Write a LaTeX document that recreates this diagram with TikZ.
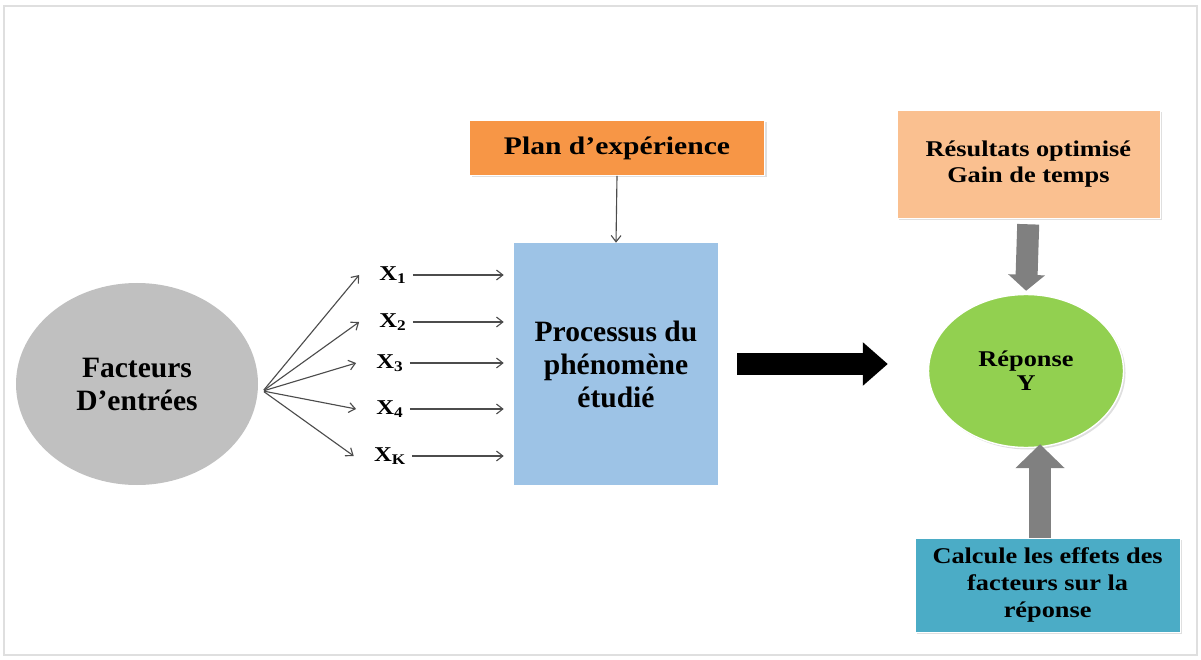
\documentclass[tikz,border=0pt]{standalone}
\usepackage{fontspec}
\setmainfont{Liberation Serif}
\newfontfamily\widefont[FakeStretch=1.17,Ligatures=TeX]{Liberation Serif}
\usepackage{tikz}
\usetikzlibrary{arrows.meta,shadows,shapes.geometric}

\definecolor{facgrey}{HTML}{C0C0C0}
\definecolor{procblue}{HTML}{9DC3E6}
\definecolor{planorange}{HTML}{F79646}
\definecolor{resorange}{HTML}{FAC090}
\definecolor{repgreen}{HTML}{92D050}
\definecolor{calcblue}{HTML}{4BACC6}
\definecolor{fatgrey}{HTML}{808080}

\begin{document}
\begin{tikzpicture}

  \useasboundingbox (0,0) rectangle (30.025,16.475);
  \draw[gray!25,line width=1.2pt] (0.1,0.1) rectangle (29.925,16.325);

  % node styles
  \tikzstyle{Big}=[
  font=\fontsize{21}{23.5}\selectfont\bfseries,
  align=center,
  inner sep=0mm]

  \tikzstyle{Small}=[
  font=\widefont\bfseries\fontsize{16}{19}\selectfont,
  align=center,
  inner sep=0mm]

  \tikzstyle{Box}=[
  Small,
  shape=rectangle,
  draw=white,
  drop shadow={shadow xshift=0.05cm,shadow yshift=-0.05cm,opacity=0.25}]

  \tikzstyle{Label}=[font=\widefont\bfseries\fontsize{15}{18}\selectfont,inner sep=0.5mm]

  % connector styles
  \tikzstyle{Thin}=[draw=black!70,line width=0.8pt,-{Straight Barb[length=4.5pt,width=7pt]}]
  \tikzstyle{Fat}=[line width=0.55cm]

  \node[Big,ellipse,fill=facgrey,minimum width=6.05cm,minimum height=5.05cm]
    (F) at (3.425,6.875) {Facteurs\\D’entrées};

  \node[anchor=center,inner sep=0mm] (O) at (6.575,6.70) {};

  \draw (O) node[Label] (x1) at +(3.25, 2.90) {X\textsubscript{1}};
  \draw (O) node[Label] (x2) at +(3.25, 1.725) {X\textsubscript{2}};
  \draw (O) node[Label] (x3) at +(3.175, 0.70) {X\textsubscript{3}};
  \draw (O) node[Label] (x4) at +(3.175,-0.45) {X\textsubscript{4}};
  \draw (O) node[Label] (xK) at +(3.175,-1.625) {X\textsubscript{K}};

  \node[Big,rectangle,fill=procblue,minimum width=5.1cm,minimum height=6.05cm]
    (P) at (15.40,7.375) {Processus du\\phénomène\\étudié};

  \node[Box,fill=planorange,minimum width=7.375cm,minimum height=1.375cm,
    font=\widefont\bfseries\fontsize{18}{21}\selectfont]
    (E) at (15.425,12.775) {Plan d’expérience};

  \node[Box,fill=resorange,minimum width=6.575cm,minimum height=2.7cm]
    (R) at (25.71,12.375) {Résultats optimisé\\Gain de temps};

  \node[Box,shape=ellipse,fill=repgreen,line width=1pt,minimum width=4.875cm,minimum height=3.825cm]
    (G) at (25.65,7.20) {Réponse\\[-2pt]Y};

  \node[Box,fill=calcblue,minimum width=6.625cm,minimum height=2.35cm]
    (C) at (26.19,1.85) {Calcule les effets des\\facteurs sur la\\réponse};

  % fan of factors
  \foreach \x in {x1,x2,x3,x4,xK}
    \draw[Thin] (O) -- ([xshift=-0.45cm]\x.west);

  \foreach \x in {x1,x2,x3,x4,xK}
    \draw[Thin,shorten <=0.1cm,shorten >=0.25cm] (\x.east) -- (\x -| P.west);

  \draw[Thin] (E.south) -- (P.north);

  % big arrows
  \draw[Fat,black,shorten <=0.475cm,shorten >=1.0cm,
    -{Triangle[length=0.625cm,width=1.05cm]}] (P.east) -- (P.east -| G.west);

  \draw[Fat,fatgrey,shorten <=0.15cm,shorten >=0.075cm,
    -{Triangle[length=0.4cm,width=0.9cm]}] (R.south) -- (G.north);

  \draw[Fat,fatgrey,shorten >=-0.1cm,
    -{Triangle[length=0.6cm,width=1.2cm]}] ([xshift=-0.19cm]C.north) -- ([xshift=-0.19cm]C.north |- G.south);

\end{tikzpicture}
\end{document}
